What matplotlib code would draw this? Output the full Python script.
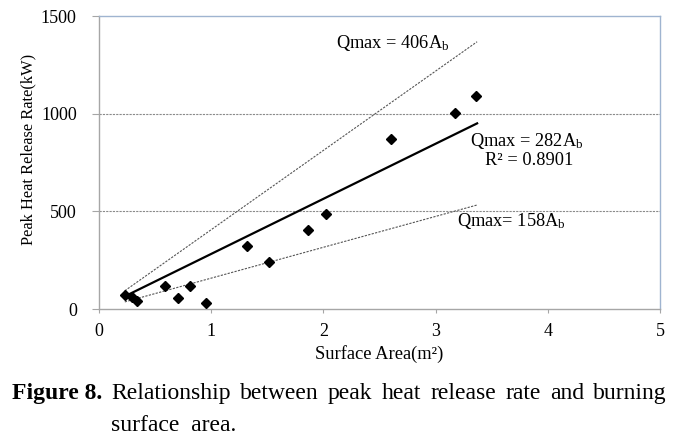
import matplotlib
matplotlib.use("Agg")
import matplotlib.pyplot as plt
import numpy as np

# ---- data ----
area = [0.23, 0.29, 0.34, 0.59, 0.70, 0.81, 0.955, 1.315, 1.515, 1.86, 2.02, 2.60, 3.17, 3.36]
hrr = [72, 62, 40, 117, 58, 117, 32, 325, 241, 405, 486, 869, 1001, 1092]

fit_slope = 282
upper_slope = 406
lower_slope = 158
r_squared = 0.8901
fit_x = [0.25, 3.37]
bound_x = [0.23, 3.37]

x_ticks = [0, 1, 2, 3, 4, 5]
y_ticks = [0, 500, 1000, 1500]

plt.rcParams['font.family'] = ['Liberation Serif', 'DejaVu Serif']
plt.rcParams['mathtext.fontset'] = 'custom'
plt.rcParams['mathtext.rm'] = 'Liberation Serif'
plt.rcParams['mathtext.it'] = 'Liberation Serif:italic'
plt.rcParams['mathtext.bf'] = 'Liberation Serif:bold'

W, H = 687, 448
fig = plt.figure(figsize=(W / 100, H / 100), dpi=100)
ax = fig.add_axes([99 / W, (H - 309) / H, (660 - 99) / W, (309 - 16) / H])

ax.set_xlim(0, 5)
ax.set_ylim(0, 1500)
ax.set_xticks(x_ticks)
ax.set_yticks(y_ticks)
ax.tick_params(axis='x', direction='out', length=3, width=0.8, color='#a6a6a6',
               labelsize=13, pad=7)
ax.tick_params(axis='y', direction='out', length=5, width=0.8, color='#a6a6a6',
               labelsize=13, pad=11)

for y in [500, 1000]:
    ax.axhline(y, color='#8a8a8a', lw=0.8, ls=(0, (2, 1)), zorder=0)

for s in ['left', 'bottom']:
    ax.spines[s].set_color('#a6a6a6')
    ax.spines[s].set_linewidth(1.0)
for s in ['top', 'right']:
    ax.spines[s].set_color('#9fb4d0')
    ax.spines[s].set_linewidth(1.0)

bx = np.array(bound_x)
fx = np.array(fit_x)
ax.plot(bx, upper_slope * bx, color='#555555', lw=0.8, ls=(0, (2, 1.2)), zorder=2)
ax.plot(bx, lower_slope * bx, color='#555555', lw=0.8, ls=(0, (2, 1.2)), zorder=2)
ax.plot(fx, fit_slope * fx, color='black', lw=1.6, zorder=3)
ax.plot(area, hrr, ls='none', marker='D', color='black', markersize=5.5, zorder=4)

ann = 13.2
ax.text(2.62, 1362, f"Qmax = {upper_slope}A$_\\mathrm{{b}}$", ha='center', va='center', fontsize=ann)
ax.text(3.81, 860, f"Qmax = {fit_slope}A$_\\mathrm{{b}}$", ha='center', va='center', fontsize=ann)
ax.text(3.83, 760, f"R\u00b2 = {r_squared}", ha='center', va='center', fontsize=ann)
ax.text(3.68, 448, f"Qmax= {lower_slope}A$_\\mathrm{{b}}$", ha='center', va='center', fontsize=ann)

fig.text(28 / W, (H - 149) / H, "Peak Heat Release Rate(kW)", rotation=90,
         ha='center', va='center', fontsize=11.8)
fig.text(379 / W, (H - 354) / H, "Surface Area(m\u00b2)", ha='center', va='center', fontsize=13.3)

# ---- caption (justified first line) ----
cap_size = 17
base1 = (H - 399) / H
base2 = (H - 431) / H
fig.text(12 / W, base1, "Figure 8.", fontweight='bold', fontsize=cap_size, va='baseline')
words = ["Relationship", "between", "peak", "heat", "release", "rate", "and", "burning"]
x_start, x_end = 111, 667
fig.canvas.draw()
renderer = fig.canvas.get_renderer()
objs = [fig.text(0, base1, w, fontsize=cap_size, va='baseline') for w in words]
widths = [o.get_window_extent(renderer).width for o in objs]
gap = (x_end - x_start - sum(widths)) / (len(words) - 1)
xp = x_start
for o, wd in zip(objs, widths):
    o.set_x(xp / W)
    xp += wd + gap
fig.text(x_start / W, base2, "surface  area.", fontsize=cap_size, va='baseline')

fig.savefig("out.png", dpi=100)
